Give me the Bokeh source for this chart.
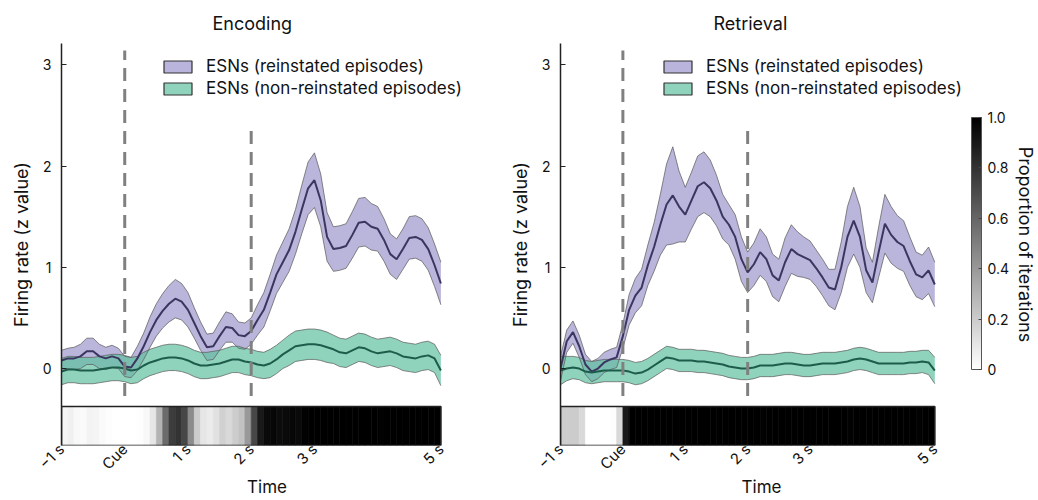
from bokeh.plotting import figure
from bokeh.models import (Range1d, FixedTicker, LinearColorMapper, ColorBar, Legend, LegendItem,
                          LinearAxis, NumeralTickFormatter, ColumnDataSource)
from bokeh.layouts import row
from bokeh.embed import file_html
from bokeh.resources import INLINE

FONT = "Inter"

# ---------------- data ----------------
time_s = [round(-1 + 0.1 * i, 1) for i in range(61)]
bin_left = [round(-1 + 0.1 * i, 1) for i in range(60)]

enc_reinst_mean = [0.08, 0.10, 0.10, 0.12, 0.17, 0.17, 0.12, 0.10, 0.12, 0.10,
                   0.02, 0.01, 0.10, 0.22, 0.36, 0.48, 0.57, 0.64, 0.69, 0.66,
                   0.58, 0.45, 0.32, 0.21, 0.22, 0.32, 0.41, 0.40, 0.33, 0.32,
                   0.37, 0.48, 0.58, 0.75, 0.93, 1.05, 1.17, 1.35, 1.57, 1.78,
                   1.86, 1.66, 1.30, 1.18, 1.19, 1.21, 1.32, 1.44, 1.45, 1.40,
                   1.38, 1.27, 1.13, 1.08, 1.18, 1.29, 1.30, 1.27, 1.18, 1.02,
                   0.84]
enc_reinst_sem = [0.10, 0.10, 0.11, 0.12, 0.13, 0.13, 0.12, 0.11, 0.11, 0.10,
                  0.10, 0.10, 0.12, 0.13, 0.15, 0.16, 0.17, 0.18, 0.19, 0.18,
                  0.17, 0.15, 0.14, 0.13, 0.13, 0.14, 0.15, 0.14, 0.13, 0.13,
                  0.13, 0.15, 0.17, 0.18, 0.19, 0.20, 0.21, 0.22, 0.24, 0.26,
                  0.27, 0.26, 0.24, 0.22, 0.22, 0.22, 0.23, 0.24, 0.24, 0.23,
                  0.22, 0.21, 0.20, 0.20, 0.20, 0.21, 0.21, 0.21, 0.21, 0.21,
                  0.21]
enc_non_mean = [-0.03, -0.01, -0.01, -0.02, -0.02, -0.02, -0.01, 0.00, 0.01, 0.01,
                0.00, -0.02, -0.01, 0.03, 0.06, 0.08, 0.10, 0.11, 0.11, 0.10,
                0.08, 0.05, 0.03, 0.03, 0.04, 0.05, 0.07, 0.09, 0.09, 0.07,
                0.06, 0.04, 0.03, 0.05, 0.09, 0.14, 0.18, 0.22, 0.23, 0.24,
                0.24, 0.23, 0.21, 0.19, 0.16, 0.15, 0.18, 0.21, 0.20, 0.17,
                0.15, 0.16, 0.17, 0.15, 0.12, 0.11, 0.10, 0.12, 0.13, 0.10,
                -0.02]
enc_non_sem = [0.13, 0.13, 0.13, 0.13, 0.13, 0.13, 0.13, 0.13, 0.13, 0.13,
               0.13, 0.13, 0.13, 0.13, 0.13, 0.13, 0.13, 0.13, 0.13, 0.13,
               0.13, 0.13, 0.13, 0.13, 0.13, 0.13, 0.13, 0.13, 0.13, 0.13,
               0.13, 0.13, 0.13, 0.14, 0.14, 0.14, 0.15, 0.15, 0.15, 0.15,
               0.15, 0.15, 0.15, 0.14, 0.14, 0.14, 0.14, 0.14, 0.14, 0.14,
               0.14, 0.14, 0.14, 0.14, 0.14, 0.14, 0.14, 0.14, 0.14, 0.14,
               0.15]

ret_reinst_mean = [0.00, 0.27, 0.36, 0.22, 0.04, -0.03, 0.00, 0.06, 0.09, 0.11,
                   0.32, 0.58, 0.72, 0.80, 1.02, 1.20, 1.42, 1.62, 1.71, 1.60,
                   1.52, 1.66, 1.80, 1.84, 1.78, 1.66, 1.50, 1.42, 1.30, 1.08,
                   0.95, 1.03, 1.15, 1.08, 0.92, 0.87, 1.05, 1.18, 1.13, 1.10,
                   1.07, 0.99, 0.90, 0.80, 0.78, 1.00, 1.30, 1.46, 1.30, 0.97,
                   0.85, 1.15, 1.43, 1.32, 1.25, 1.21, 1.06, 0.93, 0.90, 0.97,
                   0.83]
ret_reinst_sem = [0.12, 0.11, 0.11, 0.11, 0.10, 0.10, 0.10, 0.10, 0.10, 0.10,
                  0.12, 0.15, 0.17, 0.18, 0.20, 0.24, 0.30, 0.40, 0.48, 0.35,
                  0.27, 0.28, 0.30, 0.30, 0.28, 0.25, 0.22, 0.20, 0.22, 0.22,
                  0.20, 0.21, 0.23, 0.22, 0.21, 0.21, 0.24, 0.24, 0.22, 0.20,
                  0.19, 0.18, 0.18, 0.18, 0.20, 0.25, 0.30, 0.33, 0.30, 0.22,
                  0.20, 0.25, 0.29, 0.28, 0.26, 0.25, 0.24, 0.22, 0.22, 0.23,
                  0.22]
ret_non_mean = [-0.02, 0.00, 0.01, 0.00, -0.03, -0.04, -0.03, -0.02, -0.02, -0.02,
                -0.02, -0.03, -0.05, -0.04, -0.01, 0.03, 0.07, 0.11, 0.10, 0.08,
                0.08, 0.08, 0.07, 0.07, 0.06, 0.05, 0.04, 0.02, 0.01, 0.00,
                0.00, 0.01, 0.03, 0.03, 0.03, 0.04, 0.05, 0.05, 0.04, 0.03,
                0.03, 0.04, 0.05, 0.05, 0.05, 0.06, 0.07, 0.09, 0.10, 0.09,
                0.07, 0.05, 0.05, 0.05, 0.05, 0.05, 0.06, 0.06, 0.07, 0.06,
                -0.02]
ret_non_sem = [0.14, 0.12, 0.11, 0.11, 0.11, 0.11, 0.11, 0.11, 0.11, 0.11,
               0.11, 0.11, 0.11, 0.11, 0.11, 0.11, 0.11, 0.11, 0.11, 0.11,
               0.11, 0.11, 0.11, 0.11, 0.11, 0.11, 0.11, 0.11, 0.11, 0.11,
               0.11, 0.11, 0.11, 0.11, 0.11, 0.11, 0.11, 0.11, 0.11, 0.11,
               0.11, 0.11, 0.11, 0.11, 0.11, 0.11, 0.11, 0.11, 0.11, 0.11,
               0.11, 0.11, 0.11, 0.11, 0.11, 0.11, 0.11, 0.11, 0.11, 0.12,
               0.13]

enc_proportion = [0.04, 0.06, 0.03, 0.02, 0.05, 0.04, 0.02, 0.01, 0.00, 0.00,
                  0.00, 0.00, 0.01, 0.03, 0.10, 0.30, 0.58, 0.76, 0.80, 0.72,
                  0.45, 0.20, 0.10, 0.08, 0.12, 0.18, 0.15, 0.20, 0.24, 0.40,
                  0.72, 0.90, 0.96, 0.97, 0.95, 0.96, 0.97, 0.96, 0.99, 1.00,
                  1.00, 1.00, 1.00, 1.00, 1.00, 1.00, 1.00, 1.00, 1.00, 1.00,
                  0.99, 1.00, 1.00, 1.00, 1.00, 1.00, 1.00, 1.00, 1.00, 1.00]
ret_proportion = [0.20, 0.20, 0.20, 0.15, 0.00, 0.00, 0.00, 0.00, 0.01, 0.15,
                  0.90, 1.00, 1.00, 1.00, 1.00, 1.00, 1.00, 1.00, 1.00, 1.00,
                  1.00, 1.00, 1.00, 1.00, 1.00, 1.00, 1.00, 1.00, 1.00, 1.00,
                  1.00, 1.00, 0.99, 1.00, 1.00, 1.00, 1.00, 1.00, 1.00, 1.00,
                  1.00, 1.00, 1.00, 1.00, 1.00, 1.00, 0.99, 1.00, 1.00, 1.00,
                  1.00, 1.00, 1.00, 1.00, 1.00, 1.00, 1.00, 0.99, 1.00, 1.00]

marker_times = [0, 2]
marker_tops = [3.14, 2.38]

x_ticks = [-1, 0, 1, 2, 3, 5]
x_tick_labels = ["\u22121 s", "Cue", "1 s", "2 s", "3 s", "5 s"]
y_ticks = [0, 1, 2, 3]
cbar_ticks = [0, 0.2, 0.4, 0.6, 0.8, 1.0]

legend_labels = ["ESNs (reinstated episodes)", "ESNs (non-reinstated episodes)"]
panel_titles = ["Encoding", "Retrieval"]

# ---------------- styles ----------------
PURPLE_FILL = "#9d95cc"
PURPLE_LINE = "#3b3660"
GREEN_FILL = "#5fc0a0"
GREEN_LINE = "#1d5c4a"
EDGE = "#5a5a5a"
NAN = float("nan")

gray_palette = ["#%02x%02x%02x" % (v, v, v) for v in range(255, -1, -1)]
mapper = LinearColorMapper(palette=gray_palette, low=0, high=1)

Y_LO, Y_HI = -0.76, 3.21
STRIP_TOP = -0.375
DASH_BOTTOM = -0.27
H = 500


def make_panel(title, r_mean, r_sem, n_mean, n_sem, prop, width, bl, br, x_end, legend_x, title_off):
    p = figure(width=width, height=H, x_range=Range1d(-1, x_end), y_range=Range1d(Y_LO, Y_HI),
               output_backend="svg", toolbar_location=None,
               min_border_left=bl, min_border_right=br, min_border_top=43, min_border_bottom=55)
    p.outline_line_color = None
    p.grid.visible = False
    p.title.text = title
    p.title.align = "left"
    p.title.offset = title_off
    p.title.text_font = FONT
    p.title.text_font_size = "18px"
    p.title.text_font_style = "normal"
    p.title.text_color = "#111111"
    p.title.standoff = 20

    # bands
    r_up = [m + s for m, s in zip(r_mean, r_sem)]
    r_lo = [m - s for m, s in zip(r_mean, r_sem)]
    n_up = [m + s for m, s in zip(n_mean, n_sem)]
    n_lo = [m - s for m, s in zip(n_mean, n_sem)]
    p.varea(x=time_s, y1=r_lo, y2=r_up, fill_color=PURPLE_FILL, fill_alpha=0.7)
    p.varea(x=time_s, y1=n_lo, y2=n_up, fill_color=GREEN_FILL, fill_alpha=0.7)
    for yy in (r_up, r_lo, n_up, n_lo):
        p.line(time_s, yy, line_color=EDGE, line_width=0.8, line_alpha=0.9)
    p.line(time_s, r_mean, line_color=PURPLE_LINE, line_width=2)
    p.line(time_s, n_mean, line_color=GREEN_LINE, line_width=2)

    # dashed markers
    p.segment(x0=marker_times, x1=marker_times, y0=[DASH_BOTTOM] * len(marker_times), y1=marker_tops,
              line_color="#808080", line_width=3, line_dash="13 8")

    # proportion strip
    src = ColumnDataSource(dict(left=bin_left, right=[b + 0.1 for b in bin_left], prop=prop))
    p.quad(left="left", right="right", top=STRIP_TOP, bottom=Y_LO, source=src,
           fill_color={"field": "prop", "transform": mapper},
           line_color={"field": "prop", "transform": mapper}, line_width=0.6)
    p.quad(left=[time_s[0]], right=[time_s[-1]], top=[STRIP_TOP], bottom=[Y_LO], fill_color=None,
           line_color="#222222", line_width=1.5)

    # axes
    p.yaxis.ticker = FixedTicker(ticks=y_ticks)
    p.yaxis.axis_label = "Firing rate (z value)"
    p.yaxis.axis_line_color = "#222222"
    p.yaxis.axis_line_width = 1.5
    p.yaxis.major_tick_in = 5
    p.yaxis.major_tick_out = 0
    p.yaxis.minor_tick_line_color = None
    p.yaxis.major_tick_line_color = "#222222"
    p.yaxis.major_label_text_font_size = "14px"
    p.yaxis.major_label_standoff = 10
    p.yaxis.axis_label_standoff = 8
    p.yaxis.axis_label_text_font_size = "18px"

    p.xaxis.ticker = FixedTicker(ticks=x_ticks)
    p.xaxis.major_label_overrides = dict(zip(x_ticks, x_tick_labels))
    p.xaxis.major_label_orientation = 0.785
    p.xaxis.axis_line_color = None
    p.xaxis.major_tick_line_color = None
    p.xaxis.minor_tick_line_color = None
    p.xaxis.major_tick_in = 0
    p.xaxis.major_tick_out = 0
    p.xaxis.axis_label = "Time"
    p.xaxis.axis_label_text_font_size = "17px"
    p.xaxis.major_label_text_font_size = "15px"
    p.xaxis.major_label_standoff = 1
    p.xaxis.axis_label_standoff = -6

    for ax in (p.xaxis, p.yaxis):
        ax.major_label_text_font = FONT
        ax.major_label_text_color = "#111111"
        ax.axis_label_text_font = FONT
        ax.axis_label_text_font_style = "normal"
        ax.axis_label_text_color = "#111111"

    # legend
    g1 = p.quad(left=[NAN], right=[NAN], top=[NAN], bottom=[NAN],
                fill_color="#b9b4db", line_color="#333333", line_width=1.2)
    g2 = p.quad(left=[NAN], right=[NAN], top=[NAN], bottom=[NAN],
                fill_color="#8fd3bc", line_color="#333333", line_width=1.2)
    leg = Legend(items=[LegendItem(label=legend_labels[0], renderers=[g1]),
                        LegendItem(label=legend_labels[1], renderers=[g2])],
                 location=(legend_x, 347), padding=0, margin=0, spacing=2,
                 glyph_width=35, glyph_height=15, label_height=16, label_standoff=11,
                 label_text_font=FONT, label_text_font_size="17px", label_text_color="#111111",
                 background_fill_alpha=0, border_line_color=None)
    p.add_layout(leg)
    return p


p1 = make_panel(panel_titles[0], enc_reinst_mean, enc_reinst_sem, enc_non_mean, enc_non_sem,
                enc_proportion, 505, 61, 33, 5.5, 99, 151)
p2 = make_panel(panel_titles[1], ret_reinst_mean, ret_reinst_sem, ret_non_mean, ret_non_sem,
                ret_proportion, 533, 55, 72, 5.444, 100, 153)

cb = ColorBar(color_mapper=mapper, ticker=FixedTicker(ticks=cbar_ticks),
              formatter=NumeralTickFormatter(format="0.0"), major_label_overrides={0: "0"},
              width=10, height=252, location=(411, 76), padding=0,
              background_fill_alpha=0, border_line_color=None,
              bar_line_color="#555555", major_tick_line_color="#444444",
              major_tick_in=3, major_tick_out=0, label_standoff=6,
              major_label_text_font=FONT, major_label_text_font_size="14px",
              major_label_text_color="#111111")
p2.add_layout(cb)

side = LinearAxis(ticker=FixedTicker(ticks=[]), axis_line_color=None, major_tick_line_color=None,
                  minor_tick_line_color=None, major_tick_in=0, major_tick_out=0,
                  axis_label="Proportion of iterations",
                  axis_label_text_font=FONT, axis_label_text_font_size="18px",
                  axis_label_text_font_style="normal", axis_label_text_color="#111111",
                  axis_label_standoff=52)
p2.add_layout(side, "right")

layout = row(p1, p2)
open("out.html", "w").write(file_html(layout, INLINE))
